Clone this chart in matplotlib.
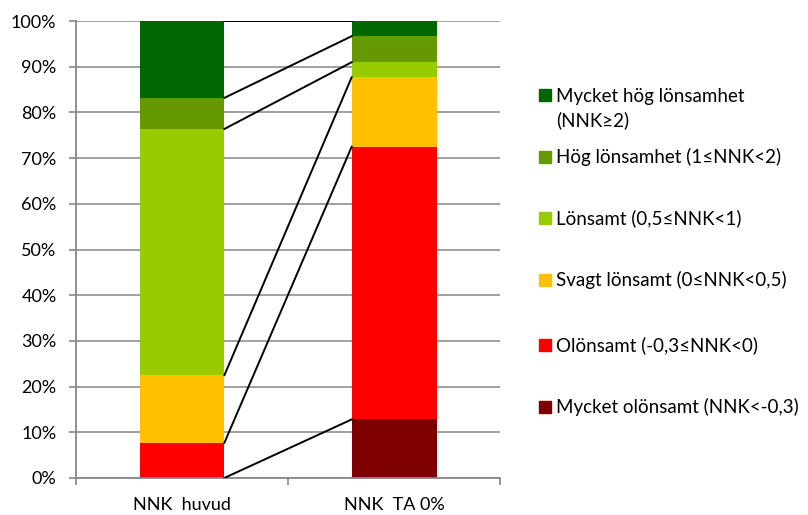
import numpy as np
import matplotlib.pyplot as plt
from matplotlib.patches import Rectangle
from matplotlib.ticker import PercentFormatter

plt.rcParams['font.family'] = ['Lato', 'DejaVu Sans']

# kategorier och andelar (%), serierna nedifrån och upp
kategorier = ['NNK  huvud', 'NNK  TA 0%']
serier = ['Mycket olönsamt (NNK<-0,3)',
          'Olönsamt (-0,3≤NNK<0)',
          'Svagt lönsamt (0≤NNK<0,5)',
          'Lönsamt (0,5≤NNK<1)',
          'Hög lönsamhet (1≤NNK<2)',
          'Mycket hög lönsamhet\n(NNK≥2)']
mycket_olonsamt = [0.0, 12.8]
olonsamt = [7.7, 59.7]
svagt_lonsamt = [14.8, 15.2]
lonsamt = [53.9, 3.3]
hog = [6.8, 5.7]
mycket_hog = [16.8, 3.3]
farger = ['#7F0000', '#FF0000', '#FFC000', '#99CC00', '#669900', '#006600']

varden = np.array([mycket_olonsamt, olonsamt, svagt_lonsamt, lonsamt, hog, mycket_hog])
varden = varden / varden.sum(axis=0) * 100

fig = plt.figure(figsize=(8.08, 5.15), dpi=100)
ax = fig.add_axes([0.094, 0.072, 0.525, 0.887])

x = np.arange(len(kategorier))
bredd = 0.4
botten = np.zeros(len(kategorier))
for namn, v, f in zip(serier, varden, farger):
    ax.bar(x, v, bredd, bottom=botten, color=f, label=namn, zorder=2)
    topp = botten + v
    # serielinjer mellan staplarna
    ax.plot([x[0] + bredd / 2, x[1] - bredd / 2], [topp[0], topp[1]],
            color='black', lw=1.4, zorder=3)
    botten = topp

ax.set_xlim(-0.5, 1.5)
ax.set_ylim(0, 100)
ax.set_yticks(np.arange(0, 101, 10))
ax.yaxis.set_major_formatter(PercentFormatter(decimals=0))
ax.set_xticks(x)
ax.set_xticklabels(kategorier)
ax.set_xticks([-0.5, 0.5, 1.5], minor=True)
ax.tick_params(axis='x', which='major', length=0, pad=14, labelsize=13)
ax.tick_params(axis='x', which='minor', length=5, color='#888888', width=1.2)
ax.tick_params(axis='y', length=5, pad=9, color='#888888', width=1.2, labelsize=13)
ax.grid(axis='y', color='#999999', lw=1.3, zorder=0)
for s in ['top', 'right']:
    ax.spines[s].set_visible(False)
for s in ['left', 'bottom']:
    ax.spines[s].set_color('#888888')
    ax.spines[s].set_linewidth(1.3)

# förklaring till höger, översta serien först
leg_y = [95, 157, 218, 280, 345, 407]
for namn, f, y in zip(serier[::-1], farger[::-1], leg_y):
    fy = 1 - y / 515
    fig.patches.append(Rectangle((539 / 808, fy - 6 / 515), 12 / 808, 12 / 515,
                                 transform=fig.transFigure, color=f))
    ty = fy - 13.5 / 515 if '\n' in namn else fy
    fig.text(556 / 808, ty, namn, fontsize=13.5, va='center', ha='left',
             linespacing=1.45)

fig.savefig('out.png', dpi=100)
